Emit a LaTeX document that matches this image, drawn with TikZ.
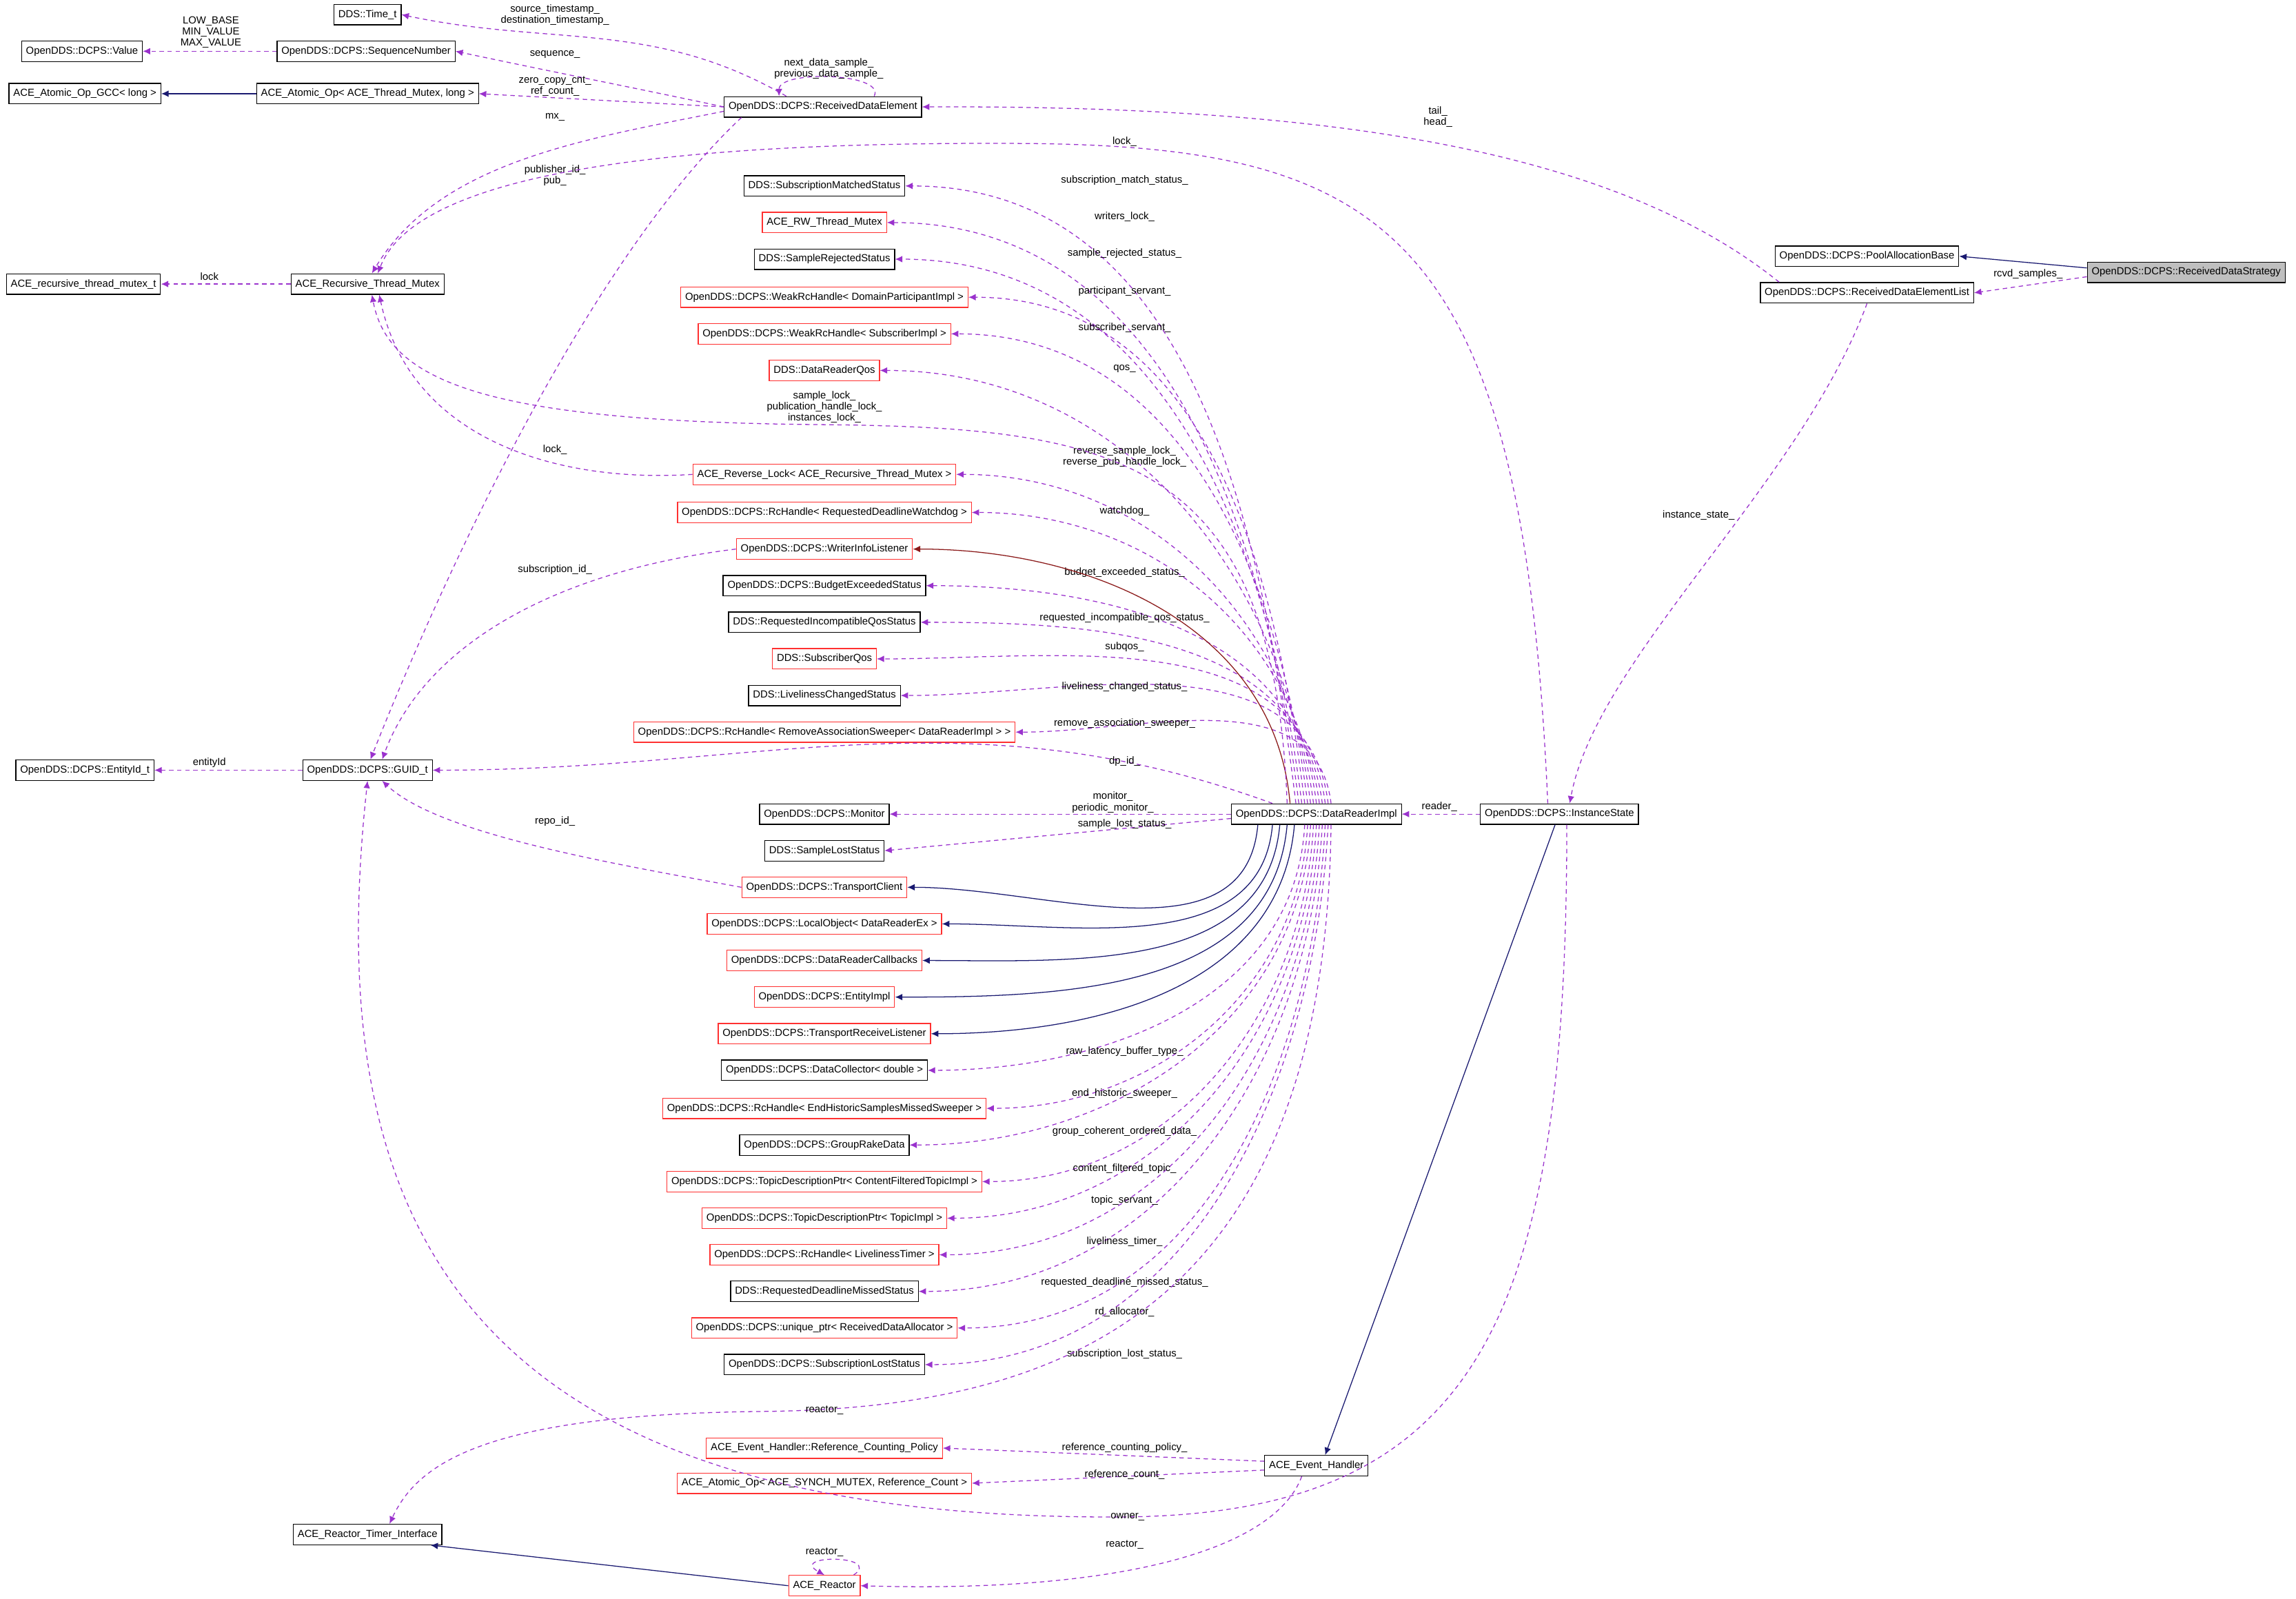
\documentclass[tikz,border=0pt]{standalone}
\usepackage{fontspec}
\setmainfont{Liberation Sans}
\usetikzlibrary{arrows.meta}
\definecolor{usec}{HTML}{9A32CD}
\definecolor{navyc}{HTML}{191970}
\definecolor{dredc}{HTML}{8B1A1A}
\definecolor{redb}{HTML}{FF3030}
\definecolor{grayf}{HTML}{BFBFBF}
\newcommand{\fs}{\fontsize{7}{7.6}\selectfont}
\tikzset{
  box/.style={draw=black, fill=white, inner xsep=3pt, inner ysep=0pt, minimum height=14pt, font=\fs, line width=0.6pt},
  rbox/.style={box, draw=redb},
  use/.style={draw=usec, dashed, dash pattern=on 3pt off 2.5pt, line width=0.6pt, -{Latex[length=5pt,width=4.5pt]}},
  inh/.style={draw=navyc, line width=0.6pt, -{Latex[length=5pt,width=4.5pt]}},
  inhr/.style={draw=dredc, line width=0.6pt, -{Latex[length=5pt,width=4.5pt]}},
  lbl/.style={font=\fs, align=center, inner sep=0pt}
}
\begin{document}
\begin{tikzpicture}[x=1pt,y=1pt]
\useasboundingbox (0,0) rectangle (1568,-1092);
% left column
\node[box] (time) at (251,-10) {DDS::Time\_t};
\node[box] (value) at (56,-35) {OpenDDS::DCPS::Value};
\node[box] (seq) at (250,-35) {OpenDDS::DCPS::SequenceNumber};
\node[box] (gcc) at (58,-64) {ACE\_Atomic\_Op\_GCC< long >};
\node[box] (atom) at (251,-64) {ACE\_Atomic\_Op< ACE\_Thread\_Mutex, long >};
\node[box] (rde) at (562,-73) {OpenDDS::DCPS::ReceivedDataElement};
\node[box] (rtmt) at (57,-194) {ACE\_recursive\_thread\_mutex\_t};
\node[box] (rtm) at (251,-194) {ACE\_Recursive\_Thread\_Mutex};
\node[box] (eid) at (58,-526) {OpenDDS::DCPS::EntityId\_t};
\node[box] (guid) at (251,-526) {OpenDDS::DCPS::GUID\_t};
\node[box] (rti) at (251,-1048) {ACE\_Reactor\_Timer\_Interface};
\node[rbox] (reactor) at (563,-1083) {ACE\_Reactor};
% middle column
\node[box] (sms) at (563,-127) {DDS::SubscriptionMatchedStatus};
\node[rbox] (rwm) at (563,-152) {ACE\_RW\_Thread\_Mutex};
\node[box] (srs) at (563,-177) {DDS::SampleRejectedStatus};
\node[rbox] (wdp) at (563,-203) {OpenDDS::DCPS::WeakRcHandle< DomainParticipantImpl >};
\node[rbox] (wsi) at (563,-228) {OpenDDS::DCPS::WeakRcHandle< SubscriberImpl >};
\node[rbox] (drq) at (563,-253) {DDS::DataReaderQos};
\node[rbox] (rvl) at (563,-324) {ACE\_Reverse\_Lock< ACE\_Recursive\_Thread\_Mutex >};
\node[rbox] (rdw) at (563,-350) {OpenDDS::DCPS::RcHandle< RequestedDeadlineWatchdog >};
\node[rbox] (wil) at (563,-375) {OpenDDS::DCPS::WriterInfoListener};
\node[box] (bes) at (563,-400) {OpenDDS::DCPS::BudgetExceededStatus};
\node[box] (riq) at (563,-425) {DDS::RequestedIncompatibleQosStatus};
\node[rbox] (sq) at (563,-450) {DDS::SubscriberQos};
\node[box] (lcs) at (563,-475) {DDS::LivelinessChangedStatus};
\node[rbox] (ras) at (563,-500) {OpenDDS::DCPS::RcHandle< RemoveAssociationSweeper< DataReaderImpl > >};
\node[box] (mon) at (563,-556) {OpenDDS::DCPS::Monitor};
\node[box] (sls) at (563,-581) {DDS::SampleLostStatus};
\node[rbox] (tc) at (563,-606) {OpenDDS::DCPS::TransportClient};
\node[rbox] (lo) at (563,-631) {OpenDDS::DCPS::LocalObject< DataReaderEx >};
\node[rbox] (drc) at (563,-656) {OpenDDS::DCPS::DataReaderCallbacks};
\node[rbox] (ei) at (563,-681) {OpenDDS::DCPS::EntityImpl};
\node[rbox] (trl) at (563,-706) {OpenDDS::DCPS::TransportReceiveListener};
\node[box] (dc) at (563,-731) {OpenDDS::DCPS::DataCollector< double >};
\node[rbox] (ehs) at (563,-757) {OpenDDS::DCPS::RcHandle< EndHistoricSamplesMissedSweeper >};
\node[box] (grd) at (563,-782) {OpenDDS::DCPS::GroupRakeData};
\node[rbox] (cft) at (563,-807) {OpenDDS::DCPS::TopicDescriptionPtr< ContentFilteredTopicImpl >};
\node[rbox] (tdp) at (563,-832) {OpenDDS::DCPS::TopicDescriptionPtr< TopicImpl >};
\node[rbox] (lt) at (563,-857) {OpenDDS::DCPS::RcHandle< LivelinessTimer >};
\node[box] (rdm) at (563,-882) {DDS::RequestedDeadlineMissedStatus};
\node[rbox] (up) at (563,-907) {OpenDDS::DCPS::unique\_ptr< ReceivedDataAllocator >};
\node[box] (sll) at (563,-932) {OpenDDS::DCPS::SubscriptionLostStatus};
\node[rbox] (rcp) at (563,-989) {ACE\_Event\_Handler::Reference\_Counting\_Policy};
\node[rbox] (aos) at (563,-1013) {ACE\_Atomic\_Op< ACE\_SYNCH\_MUTEX, Reference\_Count >};
% right
\node[box] (dri) at (899,-556) {OpenDDS::DCPS::DataReaderImpl};
\node[box] (eh) at (899,-1001) {ACE\_Event\_Handler};
\node[box] (is) at (1065,-556) {OpenDDS::DCPS::InstanceState};
\node[box] (pab) at (1275,-175) {OpenDDS::DCPS::PoolAllocationBase};
\node[box] (rdel) at (1275,-200) {OpenDDS::DCPS::ReceivedDataElementList};
\node[box, fill=grayf] (rds) at (1493,-186) {OpenDDS::DCPS::ReceivedDataStrategy};

% top-left edges
\draw[use] (seq) -- (value);
\node[lbl] at (144,-22) {LOW\_BASE\\MIN\_VALUE\\MAX\_VALUE};
\draw[inh] (atom) -- (gcc);
\draw[use] ([xshift=-25pt]rde.north) to[out=150,in=-12] (time.east);
\node[lbl] at (379,-10) {source\_timestamp\_\\destination\_timestamp\_};
\draw[use] (rde.west) to[out=168,in=-12] (seq.east);
\node[lbl] at (379,-37) {sequence\_};
\draw[use] (rde.west) -- (atom.east);
\node[lbl] at (379,-59) {zero\_copy\_cnt\_\\ref\_count\_};
\draw[use] ([xshift=35pt]rde.north) .. controls +(8,16) and +(0,18) .. ([xshift=-30pt]rde.north);
\node[lbl] at (566,-47) {next\_data\_sample\_\\previous\_data\_sample\_};
\draw[use] ([yshift=-3pt]rde.west) .. controls (400,-95) and (300,-110) .. ([xshift=3pt]rtm.north);
\node[lbl] at (379,-80) {mx\_};
\draw[use] ([xshift=12pt]rde.south west) .. controls (400,-180) and (300,-400) .. ([xshift=2pt]guid.north);
\node[lbl] at (379,-120) {publisher\_id\_\\pub\_};
\draw[use] (rtm) -- (rtmt);
\node[lbl] at (143,-189) {lock};
\draw[use] (guid) -- (eid);
\node[lbl] at (143,-521) {entityId};

% right side
\draw[use] ([xshift=-60pt]rdel.north) .. controls (1100,-100) and (900,-72) .. (rde.east);
\node[lbl] at (982,-80) {tail\_\\head\_};
\draw[inh] ([yshift=3pt]rds.west) -- (pab.east);
\draw[use] ([yshift=-3pt]rds.west) -- (rdel.east);
\node[lbl] at (1385,-187) {rcvd\_samples\_};
\draw[use] (rdel.south) .. controls (1230,-330) and (1090,-450) .. ([xshift=7pt]is.north);
\node[lbl] at (1160,-352) {instance\_state\_};
\draw[use] (is.west) -- (dri.east);
\node[lbl] at (983,-551) {reader\_};
\draw[use] ([xshift=-8pt]is.north) .. controls (1040,-160) and (950,-100) .. (700,-98) .. controls (400,-96) and (280,-130) .. ([xshift=7pt]rtm.north);
\node[lbl] at (768,-97) {lock\_};
\draw[use] ([xshift=5pt]is.south) .. controls (1070,-900) and (1010,-1033) .. (770,-1036) .. controls (300,-1040) and (220,-820) .. (guid.south);
\node[lbl] at (770,-1036) {owner\_};
\draw[inh] ([xshift=-3pt]is.south) -- ([xshift=6pt]eh.north);

% DataReaderImpl usage edges (upper)
\foreach \t/\dx in {sms/-14, rwm/-12, srs/-10, wdp/-8, wsi/-6, drq/-4, rvl/-2, rdw/0, bes/2, riq/4, sq/6, lcs/8, ras/10}{
  \draw[use] ([xshift=\dx pt]dri.north) to[out=97,in=0] (\t.east);
}
\node[lbl] at (768,-123) {subscription\_match\_status\_};
\node[lbl] at (768,-148) {writers\_lock\_};
\node[lbl] at (768,-173) {sample\_rejected\_status\_};
\node[lbl] at (768,-199) {participant\_servant\_};
\node[lbl] at (768,-224) {subscriber\_servant\_};
\node[lbl] at (768,-252) {qos\_};
\node[lbl] at (768,-312) {reverse\_sample\_lock\_\\reverse\_pub\_handle\_lock\_};
\node[lbl] at (768,-349) {watchdog\_};
\node[lbl] at (768,-391) {budget\_exceeded\_status\_};
\node[lbl] at (768,-422) {requested\_incompatible\_qos\_status\_};
\node[lbl] at (768,-442) {subqos\_};
\node[lbl] at (768,-469) {liveliness\_changed\_status\_};
\node[lbl] at (768,-494) {remove\_association\_sweeper\_};
\draw[inhr] ([xshift=-18pt]dri.north) to[out=95,in=0] (wil.east);
\draw[use] ([xshift=-20pt]dri.north) .. controls (870,-310) and (760,-292) .. (560,-290) .. controls (330,-288) and (265,-260) .. ([xshift=3pt]rtm.south);
\node[lbl] at (563,-278) {sample\_lock\_\\publication\_handle\_lock\_\\instances\_lock\_};
\draw[use] (rvl.west) .. controls (380,-330) and (280,-300) .. ([xshift=8pt]rtm.south);
\node[lbl] at (379,-307) {lock\_};
\draw[use] (wil.west) .. controls (380,-390) and (290,-440) .. ([xshift=10pt]guid.north);
\node[lbl] at (379,-389) {subscription\_id\_};
\draw[use] (tc.west) .. controls (420,-590) and (300,-570) .. ([xshift=10pt]guid.south);
\node[lbl] at (379,-561) {repo\_id\_};
\draw[use] ([xshift=-30pt]dri.north) to[out=160,in=0] (guid.east);
\node[lbl] at (768,-520) {dp\_id\_};
\draw[use] (dri.west) -- (mon.east);
\node[lbl] at (760,-548) {monitor\_\\periodic\_monitor\_};
\draw[use] ([yshift=-3pt]dri.west) -- (sls.east);
\node[lbl] at (768,-563) {sample\_lost\_status\_};
% inheritance lower
\foreach \t/\dx in {tc/-40, lo/-30, drc/-25, ei/-20, trl/-15}{
  \draw[inh] ([xshift=\dx pt]dri.south) to[out=-95,in=0] (\t.east);
}
% usage lower
\foreach \t/\dx in {dc/-8, ehs/-6, grd/-4, cft/-2, tdp/0, lt/2, rdm/4, up/6, sll/8}{
  \draw[use] ([xshift=\dx pt]dri.south) to[out=-93,in=0] (\t.east);
}
\node[lbl] at (768,-718) {raw\_latency\_buffer\_type\_};
\node[lbl] at (768,-747) {end\_historic\_sweeper\_};
\node[lbl] at (768,-773) {group\_coherent\_ordered\_data\_};
\node[lbl] at (768,-798) {content\_filtered\_topic\_};
\node[lbl] at (768,-820) {topic\_servant\_};
\node[lbl] at (768,-848) {liveliness\_timer\_};
\node[lbl] at (768,-876) {requested\_deadline\_missed\_status\_};
\node[lbl] at (768,-896) {rd\_allocator\_};
\node[lbl] at (768,-925) {subscription\_lost\_status\_};
\draw[use] ([xshift=10pt]dri.south) .. controls (905,-900) and (720,-962) .. (520,-964) .. controls (330,-966) and (285,-1000) .. ([xshift=15pt]rti.north);
\node[lbl] at (563,-963) {reactor\_};
% event handler
\draw[use] ([yshift=3pt]eh.west) -- (rcp.east);
\node[lbl] at (768,-989) {reference\_counting\_policy\_};
\draw[use] ([yshift=-3pt]eh.west) -- (aos.east);
\node[lbl] at (768,-1007) {reference\_count\_};
\draw[use] ([xshift=-10pt]eh.south) .. controls (870,-1060) and (760,-1088) .. (reactor.east);
\node[lbl] at (768,-1055) {reactor\_};
\draw[use] ([xshift=20pt]reactor.north) .. controls +(20,14) and +(-25,14) .. (reactor.north);
\node[lbl] at (563,-1060) {reactor\_};
\draw[inh] (reactor.west) -- ([xshift=-8pt]rti.south east);
\end{tikzpicture}
\end{document}
